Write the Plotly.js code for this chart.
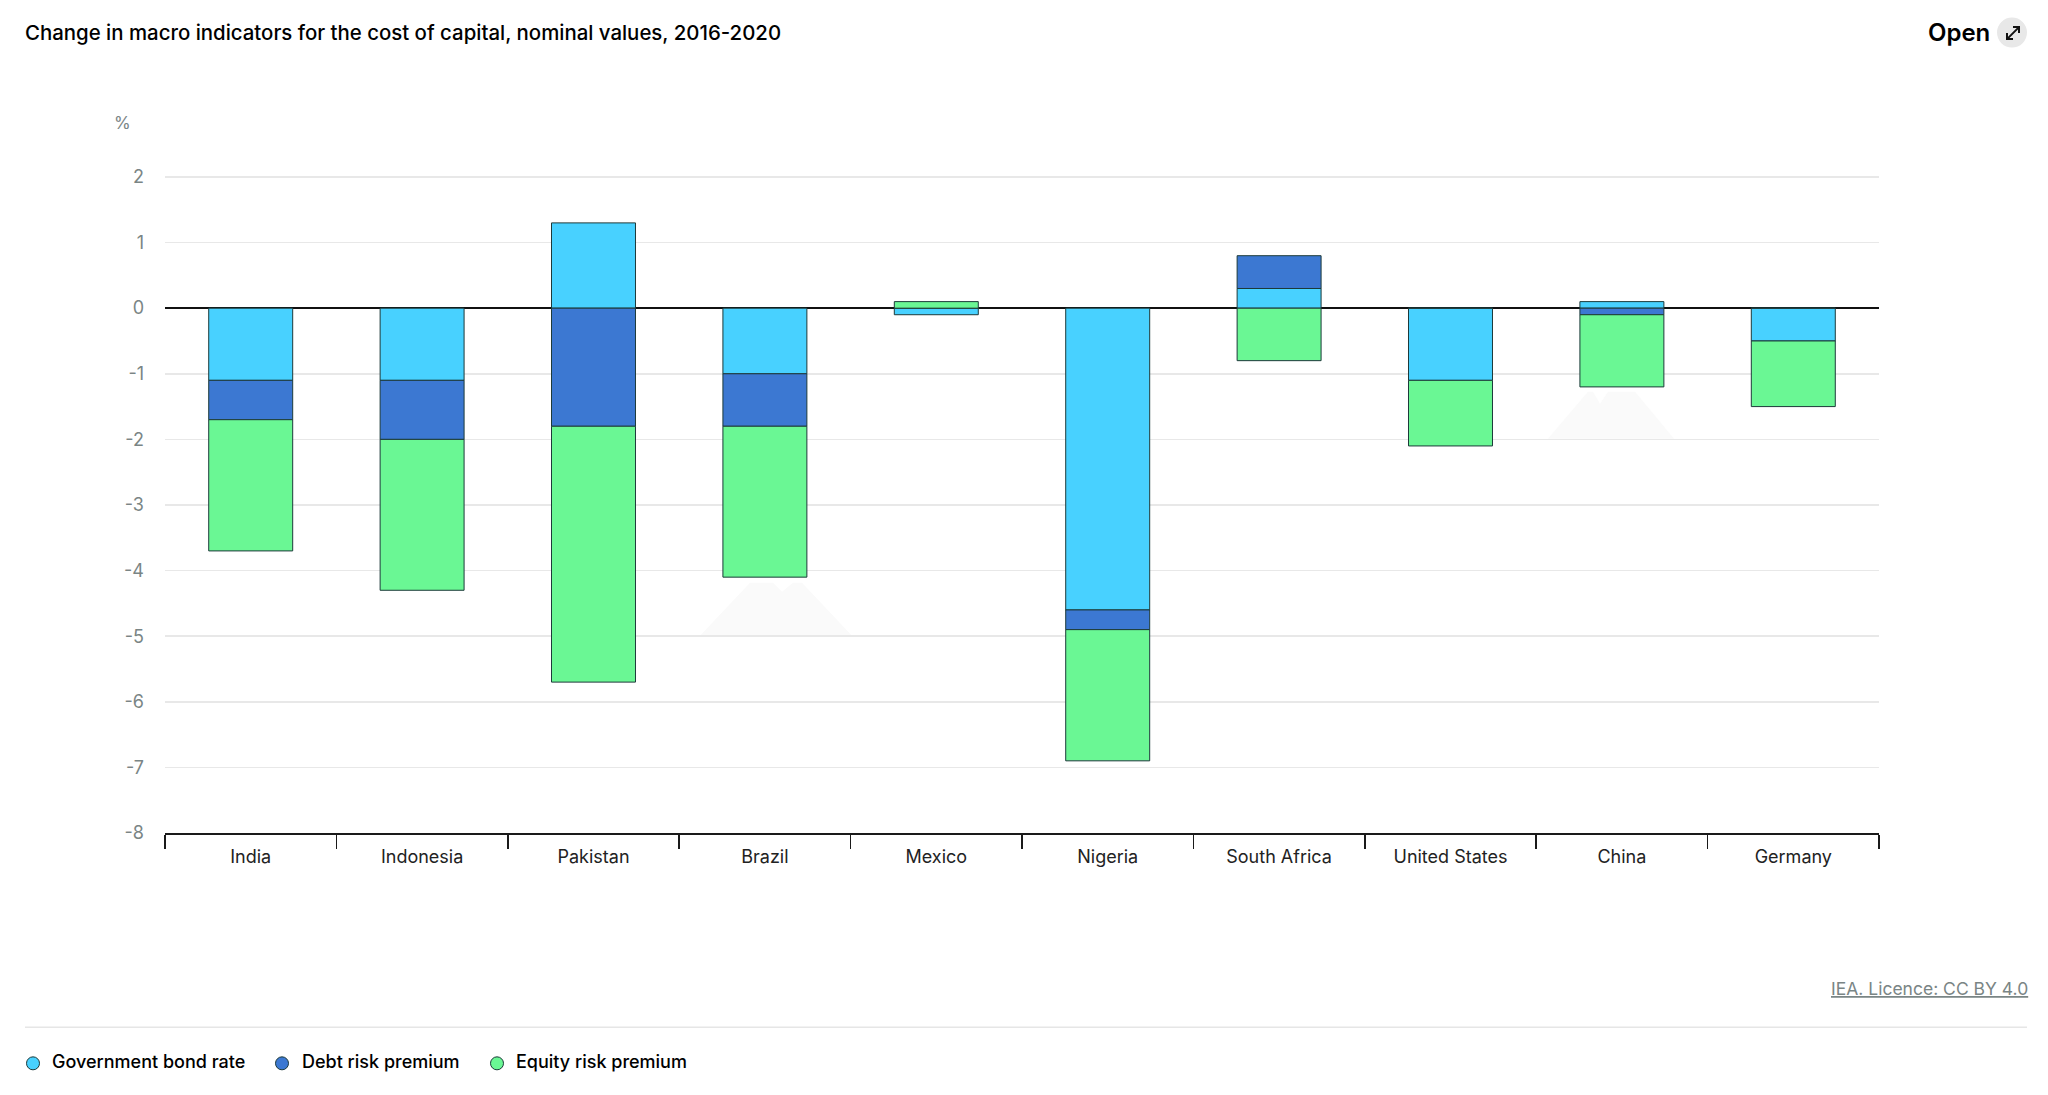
<!DOCTYPE html>
<html>
<head>
<meta charset="utf-8">
<script src="https://cdn.plot.ly/plotly-3.0.1.min.js"></script>
<style>
html, body { margin: 0; padding: 0; background: #fff; }
#chart { width: 2048px; height: 1095px; }
</style>
</head>
<body>
<div id="chart"></div>
<script>
var countries = ['India', 'Indonesia', 'Pakistan', 'Brazil', 'Mexico', 'Nigeria', 'South Africa', 'United States', 'China', 'Germany'];
var bondRate = [-1.1, -1.1, 1.3, -1.0, -0.1, -4.6, 0.3, -1.1, 0.1, -0.5];
var debtPremium = [-0.6, -0.9, -1.8, -0.8, 0, -0.3, 0.5, 0, -0.1, 0];
var equityPremium = [-2.0, -2.3, -3.9, -2.3, 0.1, -2.0, -0.8, -1.0, -1.1, -1.0];
var seriesNames = ['Government bond rate', 'Debt risk premium', 'Equity risk premium'];
var seriesColors = ['#48d1ff', '#3c78d2', '#6af794'];
var yTicks = [-8, -7, -6, -5, -4, -3, -2, -1, 0, 1, 2];
var yTickLabels = ['-8', '-7', '-6', '-5', '-4', '-3', '-2', '-1', '0', '1', '2'];

var W = 2048, H = 1095;
var m = { l: 165, r: 169, t: 175, b: 261.5 };
var fontName = 'Inter, sans-serif';

// page furniture is placed in pixels, these convert to paper coords
function px(x) { return (x - m.l) / (W - m.l - m.r); }
function py(y) { return 1 - (y - m.t) / (H - m.t - m.b); }

function barTrace(name, vals, color) {
  return {
    type: 'bar',
    name: name,
    x: countries,
    y: vals,
    width: 0.49,
    marker: { color: color, line: { color: '#1d3a3a', width: 1 } },
    showlegend: false
  };
}

var data = [
  barTrace(seriesNames[0], bondRate, seriesColors[0]),
  barTrace(seriesNames[1], debtPremium, seriesColors[1]),
  barTrace(seriesNames[2], equityPremium, seriesColors[2])
];

function text(x, y, str, size, color, anchor, weight) {
  return {
    xref: 'paper', yref: 'paper', x: px(x), y: py(y),
    text: str, showarrow: false, xanchor: anchor, yanchor: 'middle',
    font: { family: fontName, size: size, color: color, weight: weight || 400 }
  };
}

var annotations = [
  text(23, 32, 'Change in macro indicators for the cost of capital, nominal values, 2016-2020', 20.4, '#000', 'left', 500),
  text(1992, 32, 'Open', 24, '#000', 'right', 600),
  text(122, 123, '%', 17, '#7a8585', 'center'),
  text(2029.5, 989, '<u>IEA. Licence: CC BY 4.0</u>', 17.5, '#7a8585', 'right'),
  text(50, 1062, seriesNames[0], 18, '#000', 'left', 500),
  text(300, 1062, seriesNames[1], 18, '#000', 'left', 500),
  text(514, 1062, seriesNames[2], 18, '#000', 'left', 500)
];

function dot(cx, cy, r, fill, line) {
  return {
    type: 'circle', xref: 'paper', yref: 'paper',
    x0: px(cx - r), x1: px(cx + r), y0: py(cy + r), y1: py(cy - r),
    fillcolor: fill, line: { color: line, width: line === fill ? 0 : 1 }
  };
}

// faint mountain watermark behind the plot
function mountain(x, y, pts) {
  var d = pts.map(function (p, i) {
    return (i ? 'L' : 'M') + px(x + p[0]) + ',' + py(y + p[1]);
  }).join(' ') + ' Z';
  return { type: 'path', xref: 'paper', yref: 'paper', path: d, fillcolor: '#fafafa', line: { width: 0 }, layer: 'below' };
}

var shapes = [
  mountain(776, 636, [[-76, 0], [-26, -53], [-3, -53], [6, -44], [17, -53], [26, -53], [76, 0]]),
  mountain(1611, 439, [[-63, 0], [-23, -47], [-18, -47], [-11, -35], [-3, -47], [24, -47], [63, 0]]),
  { type: 'line', xref: 'paper', yref: 'paper', x0: px(25), x1: px(2027), y0: py(1028), y1: py(1028), line: { color: '#e6e6e6', width: 1.5 } },
  dot(33, 1064, 6.5, seriesColors[0], '#1d3a3a'),
  dot(282, 1064, 6.5, seriesColors[1], '#1d3a3a'),
  dot(497, 1064, 6.5, seriesColors[2], '#1d3a3a'),
  dot(2012, 32.5, 15, '#e8e8e8', '#e8e8e8'),
  { type: 'path', xref: 'paper', yref: 'paper', line: { color: '#111', width: 2 },
    path: 'M' + px(2007) + ',' + py(39) + ' L' + px(2019) + ',' + py(27) +
      ' M' + px(2013) + ',' + py(27) + ' L' + px(2019) + ',' + py(27) + ' L' + px(2019) + ',' + py(33) +
      ' M' + px(2007) + ',' + py(33) + ' L' + px(2007) + ',' + py(39) + ' L' + px(2013) + ',' + py(39) }
];

var layout = {
  width: W,
  height: H,
  barmode: 'relative',
  paper_bgcolor: '#fff',
  plot_bgcolor: 'rgba(0,0,0,0)',
  margin: m,
  showlegend: false,
  xaxis: {
    type: 'category',
    tickson: 'boundaries',
    ticks: 'outside',
    ticklen: 14,
    tickwidth: 1.5,
    tickcolor: '#1a1a1a',
    showline: true,
    linecolor: '#1a1a1a',
    linewidth: 1.5,
    showgrid: false,
    ticklabelstandoff: 7,
    tickfont: { family: fontName, size: 18, color: '#222' }
  },
  yaxis: {
    // slightly past 2 so plotly keeps the top gridline
    range: [-8, 2.03],
    tickmode: 'array',
    tickvals: yTicks,
    ticktext: yTickLabels,
    ticks: '',
    showline: false,
    gridcolor: '#e8e8e8',
    gridwidth: 1.5,
    zeroline: true,
    zerolinecolor: '#111',
    zerolinewidth: 2,
    tickfont: { family: fontName, size: 18, color: '#7a8585' },
    ticklabelstandoff: 20
  },
  annotations: annotations,
  shapes: shapes
};

Plotly.newPlot('chart', data, layout, { displayModeBar: false, staticPlot: true });
</script>
</body>
</html>
